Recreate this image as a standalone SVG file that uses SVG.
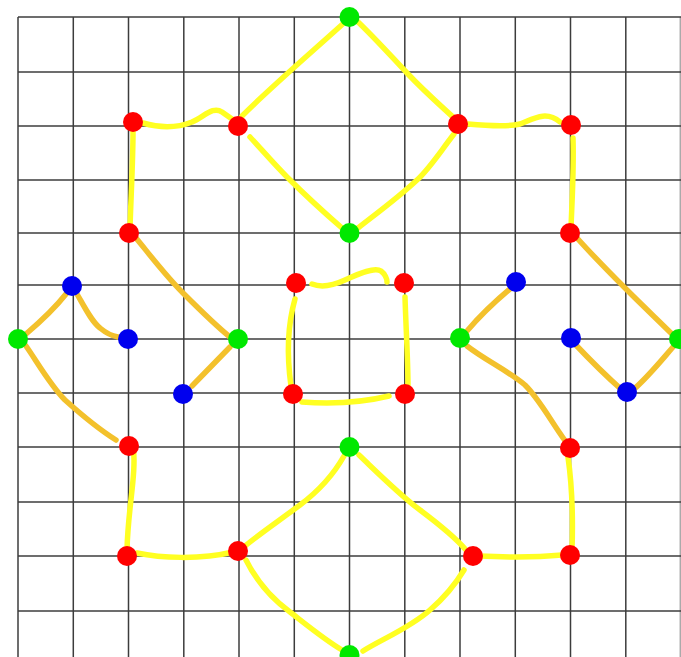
<svg xmlns="http://www.w3.org/2000/svg" width="681" height="657" viewBox="0 0 681 657">
<style>
.grid line{stroke:#3c3c3c;stroke-width:1.5}
.y{fill:none;stroke:#ffff22;stroke-width:5.5;stroke-linecap:round;stroke-linejoin:round}
.o{fill:none;stroke:#f3c12c;stroke-width:5.5;stroke-linecap:round;stroke-linejoin:round}
.r{fill:#ff0000}
.g{fill:#00e800}
.b{fill:#0000ee}
</style>
<rect width="681" height="657" fill="#ffffff"/>
<g class="grid">
<line x1="18" y1="17" x2="18" y2="657"/>
<line x1="73.3" y1="17" x2="73.3" y2="657"/>
<line x1="128.5" y1="17" x2="128.5" y2="657"/>
<line x1="183.8" y1="17" x2="183.8" y2="657"/>
<line x1="239" y1="17" x2="239" y2="657"/>
<line x1="294.3" y1="17" x2="294.3" y2="657"/>
<line x1="349.5" y1="17" x2="349.5" y2="657"/>
<line x1="404.8" y1="17" x2="404.8" y2="657"/>
<line x1="460" y1="17" x2="460" y2="657"/>
<line x1="515.3" y1="17" x2="515.3" y2="657"/>
<line x1="570.5" y1="17" x2="570.5" y2="657"/>
<line x1="625.8" y1="17" x2="625.8" y2="657"/>
<line x1="680.3" y1="17" x2="680.3" y2="657" style="stroke:#aaaaaa"/>
<line x1="18" y1="17" x2="681" y2="17"/>
<line x1="18" y1="72" x2="681" y2="72"/>
<line x1="18" y1="126" x2="681" y2="126"/>
<line x1="18" y1="180" x2="681" y2="180"/>
<line x1="18" y1="233" x2="681" y2="233"/>
<line x1="18" y1="285" x2="681" y2="285"/>
<line x1="18" y1="339" x2="681" y2="339"/>
<line x1="18" y1="393" x2="681" y2="393"/>
<line x1="18" y1="447" x2="681" y2="447"/>
<line x1="18" y1="502" x2="681" y2="502"/>
<line x1="18" y1="556" x2="681" y2="556"/>
<line x1="18" y1="611" x2="681" y2="611"/>
</g>
<g id="connectors">
<!-- top diamond -->
<path class="y" d="M242,116 C270,88 305,58 345,22"/>
<path class="y" d="M356,20 C375,38 390,55 407,73 C425,92 440,105 454,118"/>
<path class="y" d="M250,137 C262,150 275,165 287,177 C300,190 312,202 342,228"/>
<path class="y" d="M454,134 C440,152 430,168 417,180 C400,196 385,207 358,228"/>
<!-- top-left -->
<path class="y" d="M143,123 C160,128 177,128 192,122 C205,116 213,106 222,112 L232,119"/>
<path class="y" d="M133,132 C133,160 131,195 130,228"/>
<!-- top-right -->
<path class="y" d="M468,124 C490,126 508,127 520,124 C533,119 546,110 560,122"/>
<path class="y" d="M573,138 C574,170 572,200 571,228"/>
<!-- center square -->
<path class="y" d="M312,284 C322,288 332,286 345,280 C360,273 375,267 381,271 C385,274 387,279 387,282"/>
<path class="y" d="M295,299 C289,320 286,350 291,386"/>
<path class="y" d="M302,402 C330,404 360,403 389,396"/>
<path class="y" d="M405,297 C406,330 408,360 408,388"/>
<!-- bottom diamond -->
<path class="y" d="M344,456 C335,472 320,490 300,505 C280,520 262,532 245,546"/>
<path class="y" d="M359,455 C380,475 400,495 420,510 C440,525 455,537 466,550"/>
<path class="y" d="M246,560 C255,578 268,596 290,612 C308,626 325,640 342,650"/>
<path class="y" d="M363,651 C380,640 410,628 430,610 C445,597 455,585 464,570"/>
<!-- bottom-left -->
<path class="y" d="M133,443 C137,475 128,505 127,550"/>
<path class="y" d="M137,553 C160,558 200,560 233,552"/>
<!-- bottom-right -->
<path class="y" d="M568,457 C572,485 573,520 572,550"/>
<path class="y" d="M479,556 C500,557 530,558 562,555"/>
<!-- left orange -->
<path class="o" d="M136,238 C150,255 165,275 183,293 C200,310 215,325 230,337"/>
<path class="o" d="M230,347 L192,386"/>
<path class="o" d="M66,294 C55,308 40,322 26,334"/>
<path class="o" d="M77,294 C85,308 92,322 100,328 C106,333 112,336 118,337"/>
<path class="o" d="M26,346 C36,360 50,385 65,400 C85,418 100,430 116,440"/>
<!-- right orange -->
<path class="o" d="M516,284 C500,297 485,310 467,331"/>
<path class="o" d="M467,346 C485,360 510,372 525,385 C540,400 550,420 566,442"/>
<path class="o" d="M577,238 C595,258 612,275 627,290 C645,308 660,322 673,335"/>
<path class="o" d="M673,347 C660,362 648,377 633,390"/>
<path class="o" d="M574,343 C590,360 605,375 622,390"/>
</g>
<g id="nodes">
<g id="g1"><circle class="g" cx="349.5" cy="17" r="10"/></g>
<g id="g2"><circle class="g" cx="349.5" cy="233" r="10"/></g>
<g id="g3"><circle class="g" cx="18" cy="339" r="10"/></g>
<g id="g4"><circle class="g" cx="238" cy="339" r="10"/></g>
<g id="g5"><circle class="g" cx="460" cy="338" r="10"/></g>
<g id="g6"><circle class="g" cx="679" cy="339" r="10"/></g>
<g id="g7"><circle class="g" cx="349.5" cy="447" r="10"/></g>
<g id="g8"><circle class="g" cx="349.5" cy="655" r="10"/></g>
<g id="r1"><circle class="r" cx="133" cy="122" r="10"/></g>
<g id="r2"><circle class="r" cx="238" cy="126" r="10"/></g>
<g id="r3"><circle class="r" cx="458" cy="124" r="10"/></g>
<g id="r4"><circle class="r" cx="571" cy="125" r="10"/></g>
<g id="r5"><circle class="r" cx="129" cy="233" r="10"/></g>
<g id="r6"><circle class="r" cx="570" cy="233" r="10"/></g>
<g id="r7"><circle class="r" cx="296" cy="283" r="10"/></g>
<g id="r8"><circle class="r" cx="404" cy="283" r="10"/></g>
<g id="r9"><circle class="r" cx="293" cy="394" r="10"/></g>
<g id="r10"><circle class="r" cx="405" cy="394" r="10"/></g>
<g id="r11"><circle class="r" cx="129" cy="446" r="10"/></g>
<g id="r12"><circle class="r" cx="570" cy="448" r="10"/></g>
<g id="r13"><circle class="r" cx="127" cy="556" r="10"/></g>
<g id="r14"><circle class="r" cx="238" cy="551" r="10"/></g>
<g id="r15"><circle class="r" cx="473" cy="556" r="10"/></g>
<g id="r16"><circle class="r" cx="570" cy="555" r="10"/></g>
<g id="b1"><circle class="b" cx="72" cy="286" r="10"/></g>
<g id="b2"><circle class="b" cx="128" cy="339" r="10"/></g>
<g id="b3"><circle class="b" cx="183" cy="394" r="10"/></g>
<g id="b4"><circle class="b" cx="516" cy="282" r="10"/></g>
<g id="b5"><circle class="b" cx="571" cy="338" r="10"/></g>
<g id="b6"><circle class="b" cx="627" cy="392" r="10"/></g>
</g>
</svg>
